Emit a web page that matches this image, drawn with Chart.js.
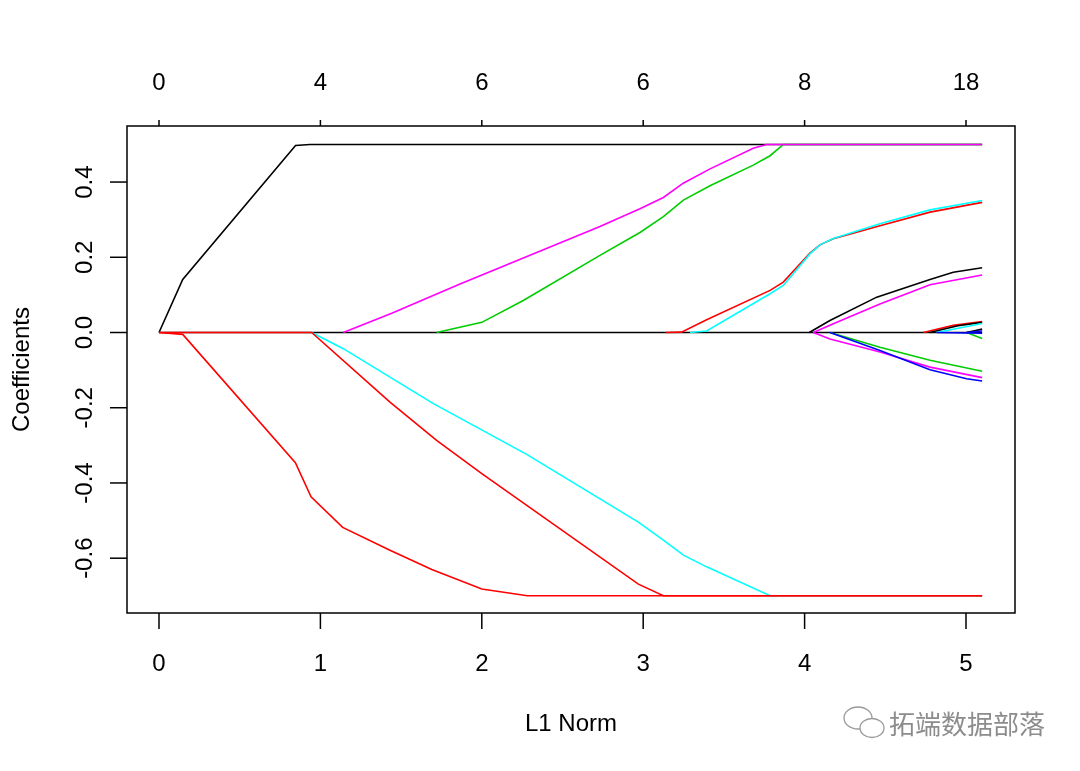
<!DOCTYPE html>
<html>
<head>
<meta charset="utf-8">
<script src="https://cdn.jsdelivr.net/npm/chart.js@4"></script>
<style>
  html, body { margin: 0; padding: 0; background: #fff; }
  #wrap { width: 1080px; height: 771px; }
</style>
</head>
<body>
<div id="wrap"><canvas id="chart" width="1080" height="771"></canvas></div>
<script>
// coefficient paths, [L1 norm, coefficient]
const blackTop = [[0, 0], [0.147, 0.141], [0.846, 0.497], [0.936, 0.5], [5.10, 0.5]];
const redLow = [[0, 0], [0.147, -0.005], [0.845, -0.346], [0.942, -0.437], [1.138, -0.518], [1.431, -0.579], [1.690, -0.630], [2.0, -0.682], [2.282, -0.7], [5.10, -0.7]];
const redMid = [[0, 0], [0.946, 0], [1.431, -0.185], [1.72, -0.287], [2.0, -0.375], [2.97, -0.669], [3.125, -0.7], [5.10, -0.7]];
const cyanDown = [[0.946, 0], [1.142, -0.043], [1.70, -0.189], [2.278, -0.324], [2.97, -0.504], [3.125, -0.552], [3.249, -0.592], [3.393, -0.623], [3.786, -0.7], [5.10, -0.7]];
const magentaUp = [[1.142, 0], [1.442, 0.051], [1.865, 0.129], [2.732, 0.282], [2.98, 0.329], [3.125, 0.359], [3.248, 0.397], [3.414, 0.435], [3.682, 0.49], [3.765, 0.5], [5.10, 0.5]];
const greenUp = [[1.72, 0], [2.0, 0.027], [2.257, 0.085], [2.732, 0.205], [2.98, 0.266], [3.125, 0.308], [3.249, 0.352], [3.414, 0.39], [3.682, 0.445], [3.786, 0.47], [3.868, 0.5], [5.10, 0.5]];
const redUp = [[3.14, 0], [3.237, 0.001], [3.393, 0.034], [3.786, 0.112], [3.868, 0.134], [4.033, 0.211], [4.095, 0.233], [4.178, 0.249], [4.467, 0.284], [4.777, 0.32], [5.10, 0.346]];
const cyanUp = [[3.29, 0], [3.393, 0.004], [3.786, 0.103], [3.868, 0.125], [4.033, 0.209], [4.095, 0.233], [4.178, 0.25], [4.467, 0.289], [4.777, 0.326], [5.10, 0.351]];
const blackUp = [[4.029, 0], [4.157, 0.032], [4.447, 0.094], [4.777, 0.141], [4.921, 0.16], [5.10, 0.172]];
const magentaUp2 = [[4.054, 0], [4.178, 0.023], [4.467, 0.076], [4.777, 0.127], [5.10, 0.153]];
const greenDown = [[4.157, 0], [4.467, -0.039], [4.777, -0.074], [5.10, -0.103]];
const magentaDown = [[4.054, 0], [4.157, -0.017], [4.467, -0.052], [4.777, -0.092], [5.10, -0.12]];
const blueDown = [[4.157, 0], [4.467, -0.048], [4.777, -0.099], [5.004, -0.123], [5.10, -0.129]];
const redSmall = [[4.736, 0], [4.921, 0.019], [5.10, 0.029]];
const blackSmall = [[4.777, 0], [4.95, 0.018], [5.10, 0.027]];
const cyanSmall = [[4.818, 0], [5.10, 0.024]];
const blueFlat = [[4.818, 0], [5.10, -0.002]];
const blackSmall2 = [[5.004, 0], [5.10, 0.009]];
const blueSmall2 = [[5.004, 0], [5.10, 0.004]];
const greenSmall = [[5.004, 0], [5.10, -0.016]];
const zeroLine = [[0, 0], [5.10, 0]];

const bottomTicks = [0, 1, 2, 3, 4, 5];
const topTickLabels = ["0", "4", "6", "6", "8", "18"];
const leftTicks = [-0.6, -0.4, -0.2, 0.0, 0.2, 0.4];
const xTitle = "L1 Norm";
const yTitle = "Coefficients";
const watermark = "拓端数据部落";

const BLACK = "#000000", RED = "#FF0000", GREEN = "#00CD00", BLUE = "#0000FF", CYAN = "#00FFFF", MAGENTA = "#FF00FF";
const FONT = "24px 'Liberation Sans', Arial, sans-serif";

// first entry is drawn on top
const paths = [
    [redMid, RED], [redLow, RED], [blueFlat, BLUE], [blueSmall2, BLUE], [blackSmall2, BLACK], [greenSmall, GREEN],
    [cyanSmall, CYAN], [blackSmall, BLACK], [redSmall, RED],
    [blueDown, BLUE], [magentaDown, MAGENTA], [greenDown, GREEN], [magentaUp2, MAGENTA], [blackUp, BLACK],
    [cyanUp, CYAN], [redUp, RED], [magentaUp, MAGENTA], [greenUp, GREEN], [blackTop, BLACK], [cyanDown, CYAN],
    [zeroLine, BLACK]
];

const datasets = paths.map(([pts, color]) => ({
    data: pts.map(([x, y]) => ({ x: x, y: y })),
    borderColor: color,
    borderWidth: 1.6,
    pointRadius: 0,
    showLine: true,
    tension: 0,
    fill: false
}));

const rAxes = {
    id: "rAxes",
    afterDraw(chart) {
        const ctx = chart.ctx;
        const a = chart.chartArea;
        const xs = chart.scales.x, ys = chart.scales.y;
        ctx.save();
        ctx.strokeStyle = "#000";
        ctx.fillStyle = "#000";
        ctx.lineWidth = 1.5;
        ctx.strokeRect(a.left, a.top, a.right - a.left, a.bottom - a.top);
        ctx.font = FONT;

        ctx.textAlign = "center";
        ctx.textBaseline = "alphabetic";
        bottomTicks.forEach((v, i) => {
            const px = xs.getPixelForValue(v);
            ctx.beginPath();
            ctx.moveTo(px, a.bottom);
            ctx.lineTo(px, a.bottom + 16);
            ctx.stroke();
            ctx.fillText(String(v), px, 671);
            ctx.beginPath();
            ctx.moveTo(px, a.top);
            ctx.lineTo(px, a.top - 6);
            ctx.stroke();
            ctx.fillText(topTickLabels[i], px, 90);
        });

        leftTicks.forEach(v => {
            const py = ys.getPixelForValue(v);
            ctx.beginPath();
            ctx.moveTo(a.left, py);
            ctx.lineTo(a.left - 17, py);
            ctx.stroke();
            ctx.save();
            ctx.translate(92, py);
            ctx.rotate(-Math.PI / 2);
            ctx.fillText(v.toFixed(1), 0, 0);
            ctx.restore();
        });

        ctx.fillText(xTitle, (a.left + a.right) / 2, 731);
        ctx.save();
        ctx.translate(29, (a.top + a.bottom) / 2);
        ctx.rotate(-Math.PI / 2);
        ctx.fillText(yTitle, 0, 0);
        ctx.restore();

        // watermark in the corner
        ctx.strokeStyle = "#9a9a9a";
        ctx.fillStyle = "#8c8c8c";
        ctx.lineWidth = 1.3;
        ctx.beginPath();
        ctx.ellipse(858, 718, 14, 11, 0, 0, Math.PI * 2);
        ctx.stroke();
        ctx.beginPath();
        ctx.ellipse(872, 728, 12, 9.5, 0, 0, Math.PI * 2);
        ctx.fillStyle = "#fff";
        ctx.fill();
        ctx.stroke();
        ctx.fillStyle = "#8c8c8c";
        ctx.font = "26px 'Noto Sans CJK SC', sans-serif";
        ctx.textAlign = "left";
        ctx.fillText(watermark, 889, 734);
        ctx.restore();
    }
};

new Chart(document.getElementById("chart"), {
    type: "scatter",
    data: { datasets: datasets },
    options: {
        responsive: false,
        animation: false,
        layout: { padding: { left: 127, right: 65, top: 126, bottom: 158 } },
        plugins: { legend: { display: false }, tooltip: { enabled: false } },
        scales: {
            x: { type: "linear", display: false, min: -0.1983, max: 5.3036 },
            y: { type: "linear", display: false, min: -0.7457, max: 0.549 }
        }
    },
    plugins: [rAxes]
});
</script>
</body>
</html>
